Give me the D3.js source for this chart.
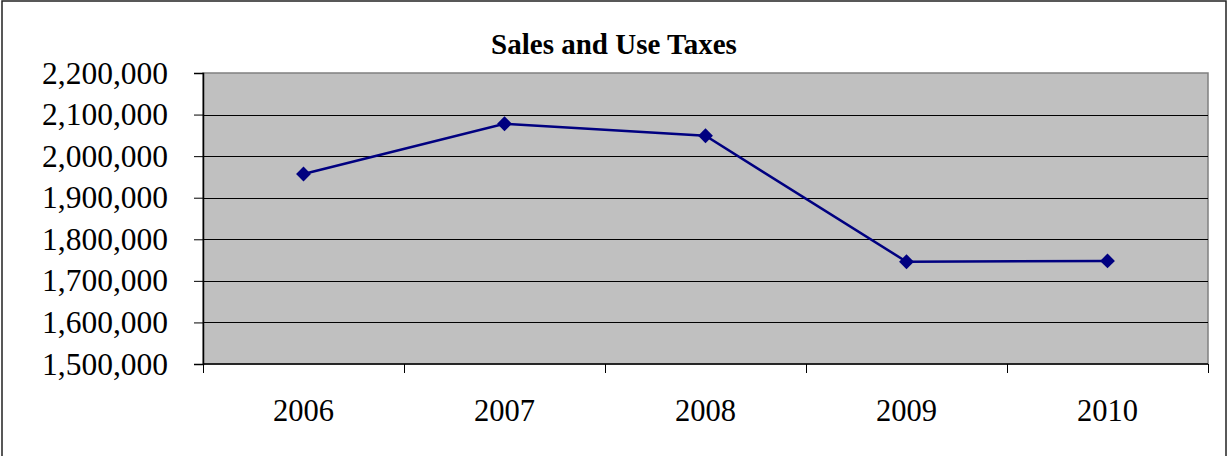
<!DOCTYPE html>
<html>
<head>
<meta charset="utf-8">
<script src="https://cdn.jsdelivr.net/npm/d3@7"></script>
<style>
  html, body { margin: 0; padding: 0; background: #fff; }
  svg { display: block; }
</style>
</head>
<body>
<svg id="chart" width="1231" height="456"></svg>
<script>
const years = ["2006", "2007", "2008", "2009", "2010"];
const sales = [1957000, 2078000, 2049000, 1746000, 1748000];
const yTicks = [1500000, 1600000, 1700000, 1800000, 1900000, 2000000, 2100000, 2200000];

const SVG = d3.select("#chart");
const W = 1231, H = 456;
const M = { top: 73, right: 23, bottom: 92, left: 203 };
const pw = W - M.left - M.right;
const ph = H - M.top - M.bottom;
const serif = "'Liberation Serif', 'Times New Roman', serif";

// outer chart frame (bottom edge runs off the picture)
SVG.append("rect")
  .attr("x", 2).attr("y", 1)
  .attr("width", 1224).attr("height", 470)
  .attr("fill", "none")
  .attr("stroke", "#222")
  .attr("stroke-width", 1.5);

SVG.append("text")
  .attr("x", 614).attr("y", 54)
  .attr("text-anchor", "middle")
  .style("font-family", serif)
  .style("font-weight", "bold")
  .style("font-size", "29px")
  .text("Sales and Use Taxes");

const g = SVG.append("g").attr("transform", `translate(${M.left},${M.top})`);

const x = d3.scaleBand().domain(years).range([0, pw]);
const y = d3.scaleLinear().domain([1500000, 2200000]).range([ph, 0]);

// plot area
g.append("rect")
  .attr("width", pw).attr("height", ph)
  .attr("fill", "#c0c0c0")
  .attr("stroke", "#808080")
  .attr("stroke-width", 1.5);

// gridlines
g.append("g").selectAll("line")
  .data(yTicks.slice(1, -1))
  .join("line")
  .attr("x1", 0).attr("x2", pw)
  .attr("y1", d => Math.round(y(d)) + 0.5)
  .attr("y2", d => Math.round(y(d)) + 0.5)
  .attr("stroke", "#000")
  .attr("stroke-width", 1);

// y axis
const yAxisG = g.append("g")
  .call(d3.axisLeft(y).tickValues(yTicks).tickSize(9).tickPadding(26)
    .tickFormat(d3.format(",")));
yAxisG.select(".domain").attr("stroke", "#000").attr("stroke-width", 1.5);
yAxisG.selectAll(".tick line").attr("stroke", "#000");
yAxisG.selectAll("text")
  .style("font-family", serif)
  .style("font-size", "31.5px")
  .attr("fill", "#000");

// x axis: ticks on category boundaries, labels centered
const xAxisG = g.append("g").attr("transform", `translate(0,${ph})`);
xAxisG.append("line")
  .attr("x1", 0).attr("x2", pw)
  .attr("stroke", "#000").attr("stroke-width", 1.5);
xAxisG.selectAll(".xt")
  .data(years.concat(["end"]))
  .join("line")
  .attr("class", "xt")
  .attr("x1", (d, i) => Math.round(i < years.length ? x(d) : pw) + 0.5)
  .attr("x2", (d, i) => Math.round(i < years.length ? x(d) : pw) + 0.5)
  .attr("y1", 0).attr("y2", 9)
  .attr("stroke", "#000");
xAxisG.selectAll(".xl")
  .data(years)
  .join("text")
  .attr("class", "xl")
  .attr("x", d => x(d) + x.bandwidth() / 2)
  .attr("y", 57)
  .attr("text-anchor", "middle")
  .style("font-family", serif)
  .style("font-size", "30.5px")
  .text(d => d);

// series
const line = d3.line()
  .x((d, i) => x(years[i]) + x.bandwidth() / 2)
  .y(d => y(d));

g.append("path")
  .datum(sales)
  .attr("fill", "none")
  .attr("stroke", "#000080")
  .attr("stroke-width", 2.5)
  .attr("d", line);

g.append("g").selectAll("path")
  .data(sales)
  .join("path")
  .attr("transform", (d, i) => `translate(${x(years[i]) + x.bandwidth() / 2},${y(d)})`)
  .attr("d", d3.symbol().type(d3.symbolDiamond2).size(140))
  .attr("fill", "#000080");
</script>
</body>
</html>
